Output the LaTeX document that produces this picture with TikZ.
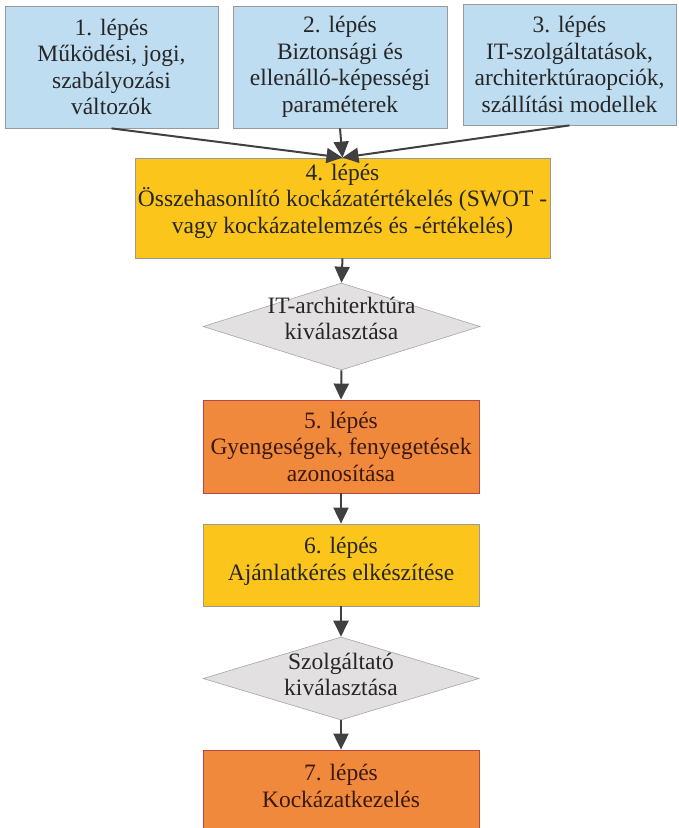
\documentclass[tikz,border=0pt]{standalone}
\usepackage{fontspec}
\setmainfont{Liberation Serif}
\usepackage{tikz}
\usetikzlibrary{arrows.meta,shapes.geometric}
\definecolor{cInput}{HTML}{BEDDF1}
\definecolor{cEval}{HTML}{FBC51B}
\definecolor{cRisk}{HTML}{F1893C}
\definecolor{cChoice}{HTML}{E2E0E0}
\definecolor{cEdge}{HTML}{404040}
\definecolor{cRiskText}{HTML}{3A1A10}

\begin{document}
\begin{tikzpicture}[x=1pt,y=-1pt,
  stepbox/.style={draw=gray!80,line width=0.8pt,inner sep=0pt,align=center,
    font=\fontsize{23.5}{26.5}\selectfont,text=black!85},
  choice/.style={diamond,draw=gray!70,line width=0.6pt,fill=cChoice,inner sep=0pt},
  flow/.style={-{Triangle[length=16pt,width=15pt]},cEdge,line width=2pt}]
  \useasboundingbox (0,0) rectangle (678,828);
  % input steps
  \node[stepbox,fill=cInput,minimum width=213pt,minimum height=122pt] (s1) at (111.5,67)
    {1. lépés\\Működési, jogi,\\szabályozási\\változók};
  \node[stepbox,fill=cInput,minimum width=214pt,minimum height=122pt] (s2) at (340,67)
    {2. lépés\\Biztonsági és\\ellenálló-képességi\\paraméterek};
  \node[stepbox,fill=cInput,minimum width=213pt,minimum height=121pt] (s3) at (569.5,64.5)
    {3. lépés\\IT-szolgáltatások,\\architerktúraopciók,\\szállítási modellek};
  % evaluation
  \node[stepbox,fill=cEval,minimum width=415pt,minimum height=100pt] (s4) at (342.5,208)
    {4. lépés\\Összehasonlító kockázatértékelés (SWOT -\\vagy kockázatelemzés és -értékelés)\\[-8pt]};
  \node[choice,minimum width=277pt,minimum height=87pt,
    label={[stepbox,draw=none,yshift=8pt]center:IT-architerktúra\\kiválasztása}] (c1) at (341.5,326.5) {};
  \node[stepbox,fill=cRisk,draw=red!45!gray,text=cRiskText,minimum width=276pt,minimum height=93pt] (s5) at (341,446.5)
    {5. lépés\\Gyengeségek, fenyegetések\\azonosítása};
  \node[stepbox,fill=cEval,minimum width=276pt,minimum height=82pt] (s6) at (341,565)
    {6. lépés\\Ajánlatkérés elkészítése\\[-14pt]};
  \node[choice,minimum width=276pt,minimum height=83pt,
    label={[stepbox,draw=none,yshift=4pt]center:Szolgáltató\\kiválasztása}] (c2) at (341,678.5) {};
  \node[stepbox,fill=cRisk,draw=red!45!gray,text=cRiskText,minimum width=276pt,minimum height=90pt] (s7) at (341,795)
    {7. lépés\\Kockázatkezelés\\[-8pt]};
  % connectors
  \foreach \a/\b in {s1/s4,s2/s4,s3/s4,s4/c1,c1/s5,s5/s6,s6/c2,c2/s7}
    \draw[flow] (\a.south) -- (\b.north);
\end{tikzpicture}
\end{document}
